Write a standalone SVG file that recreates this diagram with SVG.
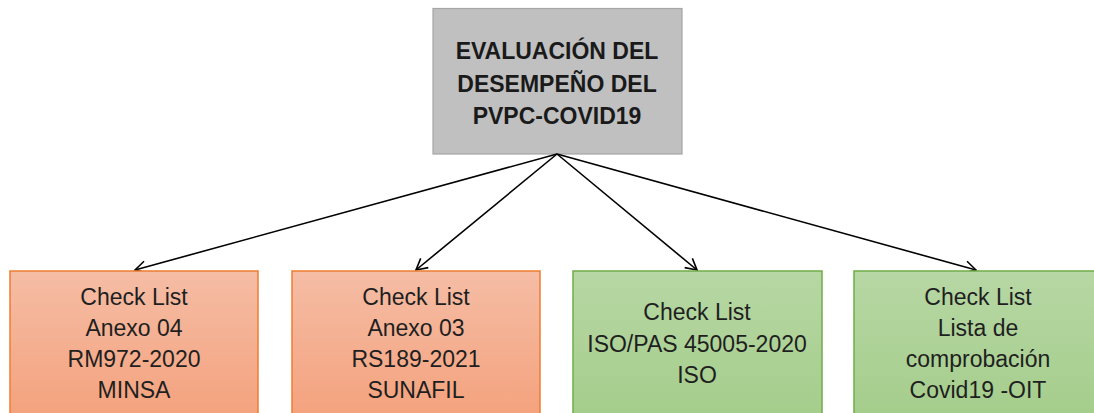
<svg xmlns="http://www.w3.org/2000/svg" width="1094" height="413" viewBox="0 0 1094 413">
<style>
.t{font-family:"Liberation Sans",Arial,sans-serif;font-size:23px;fill:#1f1f1f;text-anchor:middle}
.h{font-family:"Liberation Sans",Arial,sans-serif;font-size:23px;font-weight:bold;fill:#1a1a1a;text-anchor:middle}
.or{fill:url(#go);stroke:#ed7d31;stroke-width:1.5}
.gr{fill:url(#gg);stroke:#70ad47;stroke-width:1.5}
.c{stroke:#000;stroke-width:1.6;fill:none;marker-end:url(#ah)}
</style>
<defs>
<linearGradient id="go" x1="0" y1="0" x2="0" y2="1"><stop offset="0" stop-color="#f5bda5"/><stop offset="1" stop-color="#f4a17c"/></linearGradient>
<linearGradient id="gg" x1="0" y1="0" x2="0" y2="1"><stop offset="0" stop-color="#b7d7a4"/><stop offset="1" stop-color="#a4cd8b"/></linearGradient>
<marker id="ah" markerWidth="14" markerHeight="14" refX="12" refY="7" orient="auto" markerUnits="userSpaceOnUse"><path d="M1,1 L12,7 L1,13" fill="none" stroke="#000" stroke-width="1.6"/></marker>
</defs>
<g id="root">
<rect x="433" y="8.5" width="249" height="145.5" fill="#c0c0c0" stroke="#a6a6a6" stroke-width="1.2"/>
<text class="h" x="557" y="59">EVALUACIÓN DEL</text>
<text class="h" x="557" y="92">DESEMPEÑO DEL</text>
<text class="h" x="557" y="124">PVPC-COVID19</text>
</g>
<g id="connectors">
<line class="c" x1="557" y1="154" x2="135" y2="270"/>
<line class="c" x1="557" y1="154" x2="416" y2="270"/>
<line class="c" x1="557" y1="154" x2="697" y2="270"/>
<line class="c" x1="557" y1="154" x2="976" y2="270"/>
</g>
<g id="n1">
<rect class="or" x="10" y="271" width="248" height="150"/>
<text class="t" x="134" y="305">Check List</text>
<text class="t" x="134" y="336">Anexo 04</text>
<text class="t" x="134" y="367">RM972-2020</text>
<text class="t" x="134" y="398">MINSA</text>
</g>
<g id="n2">
<rect class="or" x="292" y="271" width="248" height="150"/>
<text class="t" x="416" y="305">Check List</text>
<text class="t" x="416" y="336">Anexo 03</text>
<text class="t" x="416" y="367">RS189-2021</text>
<text class="t" x="416" y="398">SUNAFIL</text>
</g>
<g id="n3">
<rect class="gr" x="573" y="271" width="249" height="150"/>
<text class="t" x="697" y="320">Check List</text>
<text class="t" x="697" y="352">ISO/PAS 45005-2020</text>
<text class="t" x="697" y="383">ISO</text>
</g>
<g id="n4">
<rect class="gr" x="854" y="271" width="249" height="150"/>
<text class="t" x="978" y="305">Check List</text>
<text class="t" x="978" y="336">Lista de</text>
<text class="t" x="978" y="367">comprobación</text>
<text class="t" x="978" y="398">Covid19 -OIT</text>
</g>
</svg>
